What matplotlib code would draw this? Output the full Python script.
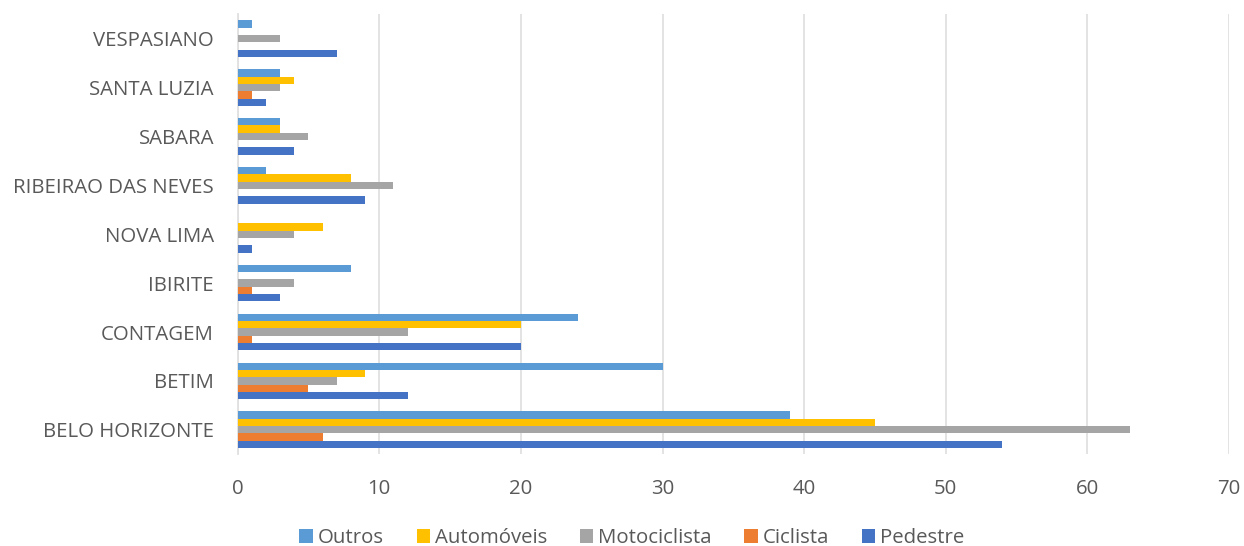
import matplotlib
matplotlib.use("Agg")
import matplotlib.pyplot as plt
import numpy as np

categories = ["BELO HORIZONTE", "BETIM", "CONTAGEM", "IBIRITE", "NOVA LIMA",
              "RIBEIRAO DAS NEVES", "SABARA", "SANTA LUZIA", "VESPASIANO"]
pedestre = [54, 12, 20, 3, 1, 9, 4, 2, 7]
ciclista = [6, 5, 1, 1, 0, 0, 0, 1, 0]
motociclista = [63, 7, 12, 4, 4, 11, 5, 3, 3]
automoveis = [45, 9, 20, 0, 6, 8, 3, 4, 0]
outros = [39, 30, 24, 8, 0, 2, 3, 3, 1]

series = [
    ("Pedestre", pedestre, "#4472C4"),
    ("Ciclista", ciclista, "#ED7D31"),
    ("Motociclista", motociclista, "#A5A5A5"),
    ("Automóveis", automoveis, "#FFC000"),
    ("Outros", outros, "#5B9BD5"),
]

plt.rcParams["font.family"] = ["Open Sans", "DejaVu Sans"]

fig = plt.figure(figsize=(12.44, 5.46), dpi=100)
ax = fig.add_axes([0.191, 0.168, 0.797, 0.806])

y = np.arange(len(categories))
bh = 0.15
for i, (name, vals, col) in enumerate(series):
    ax.barh(y + (i - 2) * bh, vals, height=bh, color=col, label=name, zorder=3)

ax.set_xlim(0, 70)
ax.set_ylim(-0.5, len(categories) - 0.5)
ax.set_xticks(range(0, 71, 10))
ax.set_yticks(y)
ax.set_yticklabels(categories)
ax.grid(axis="x", color="#E0E0E0", linewidth=1.3, zorder=0)
for s in ["top", "right", "bottom"]:
    ax.spines[s].set_visible(False)
ax.spines["left"].set_color("#E0E0E0")
ax.spines["left"].set_linewidth(1.3)
ax.tick_params(axis="both", length=0, labelsize=14.7, colors="#595959")
ax.tick_params(axis="x", pad=18)
ax.tick_params(axis="y", pad=17)

handles, labels = ax.get_legend_handles_labels()
order = [4, 3, 2, 1, 0]
fig.legend([handles[k] for k in order], [labels[k] for k in order],
           loc="lower center", bbox_to_anchor=(0.508, -0.038), ncol=5, frameon=False,
           fontsize=14.7, labelcolor="#595959", handlelength=0.65, handleheight=0.65,
           handletextpad=0.25, columnspacing=1.6)

fig.savefig("out.png", dpi=100)
